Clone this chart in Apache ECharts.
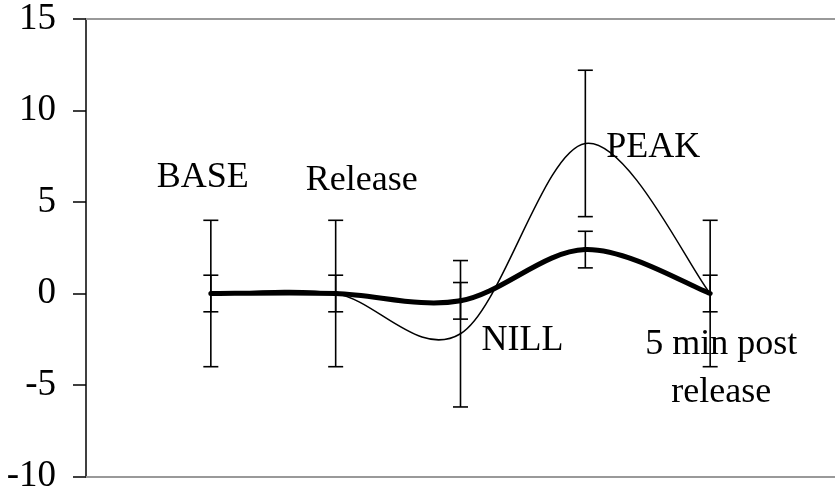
<!DOCTYPE html>
<html>
<head>
<meta charset="utf-8">
<script src="https://cdn.jsdelivr.net/npm/echarts@6/dist/echarts.min.js"></script>
<style>
  html, body { margin: 0; padding: 0; background: #fff; }
  #chart { width: 835px; height: 495px; }
</style>
</head>
<body>
<div id="chart"></div>
<script>
// 数据
const categories = ['', 'BASE', 'Release', 'NILL', 'PEAK', '5 min post\nrelease', ''];
const thinValues = [null, 0, 0, -2.2, 8.2, 0, null];
const thinErrors = [null, 4, 4, 4, 4, 4, null];
const thickValues = [null, 0, 0, -0.4, 2.4, 0, null];
const thickErrors = [null, 1, 1, 1, 1, 1, null];
const yMin = -10;
const yMax = 15;
const yStep = 5;

// 标签相对于细线点的偏移 (px)
const labelOffsets = [null, [-8, -116], [26, -113], [62, 7], [68, 4], [11, 0]];

const FONT = '"Liberation Serif", "Times New Roman", serif';

function pointData(values, errors) {
  const out = [];
  values.forEach((v, i) => {
    if (v !== null) out.push([i, v, errors[i]]);
  });
  return out;
}

// 每一段的起点索引
function segmentData(values) {
  const out = [];
  for (let i = 0; i < values.length - 1; i++) {
    if (values[i] !== null && values[i + 1] !== null) out.push([i, values[i]]);
  }
  return out;
}

/**
 * 生成一个类似 Excel 平滑线的分段三次贝塞尔曲线
 * @param {Array} values 数据
 * @param {Number} width 线宽
 */
function smoothRenderer(values, width) {
  const valid = values.map((v, i) => (v !== null ? i : -1)).filter(i => i >= 0);
  const first = valid[0];
  const last = valid[valid.length - 1];
  return function (params, api) {
    const i = api.value(0);
    const pt = j => {
      const k = Math.min(Math.max(j, first), last);
      return api.coord([k, values[k]]);
    };
    const p0 = pt(i - 1);
    const p1 = pt(i);
    const p2 = pt(i + 1);
    const p3 = pt(i + 2);
    return {
      type: 'bezierCurve',
      shape: {
        x1: p1[0], y1: p1[1],
        x2: p2[0], y2: p2[1],
        cpx1: p1[0] + (p2[0] - p0[0]) / 6,
        cpy1: p1[1] + (p2[1] - p0[1]) / 6,
        cpx2: p2[0] - (p3[0] - p1[0]) / 6,
        cpy2: p2[1] - (p3[1] - p1[1]) / 6
      },
      style: { stroke: '#000', fill: null, lineWidth: width, lineCap: 'round' }
    };
  };
}

// 误差线
function renderError(params, api) {
  const i = api.value(0);
  const v = api.value(1);
  const e = api.value(2);
  const top = api.coord([i, v + e]);
  const bottom = api.coord([i, v - e]);
  const half = 7.5;
  const style = { stroke: '#000', lineWidth: 1.6 };
  return {
    type: 'group',
    children: [
      { type: 'line', shape: { x1: top[0], y1: top[1], x2: bottom[0], y2: bottom[1] }, style },
      { type: 'line', shape: { x1: top[0] - half, y1: top[1], x2: top[0] + half, y2: top[1] }, style },
      { type: 'line', shape: { x1: bottom[0] - half, y1: bottom[1], x2: bottom[0] + half, y2: bottom[1] }, style }
    ]
  };
}

// 数据标签
function renderLabel(params, api) {
  const i = api.value(0);
  const v = api.value(1);
  const p = api.coord([i, v]);
  const off = labelOffsets[i];
  const text = categories[i];
  const multi = text.indexOf('\n') >= 0;
  return {
    type: 'text',
    x: p[0] + off[0],
    y: p[1] + off[1] + (multi ? 75 : 0),
    style: {
      text,
      fontFamily: FONT,
      fontSize: 36,
      lineHeight: 48,
      fill: '#000',
      align: 'center',
      verticalAlign: 'middle'
    }
  };
}

const myChart = echarts.init(document.getElementById('chart'));

const borderAxis = {
  type: 'category',
  data: categories,
  boundaryGap: false,
  axisLine: { onZero: false, lineStyle: { color: '#999', width: 2 } },
  axisTick: { show: false },
  axisLabel: { show: false },
  splitLine: { show: false }
};

const option = {
  animation: false,
  grid: { left: 86, right: 0, top: 19, bottom: 18 },
  xAxis: [
    Object.assign({}, borderAxis, { position: 'bottom' }),
    Object.assign({}, borderAxis, { position: 'top' })
  ],
  yAxis: {
    type: 'value',
    min: yMin,
    max: yMax,
    interval: yStep,
    axisLine: { show: true, onZero: false, lineStyle: { color: '#000', width: 1.5 } },
    axisTick: { show: true, inside: false, length: 13, lineStyle: { color: '#000', width: 1.5 } },
    axisLabel: {
      color: '#000',
      fontFamily: FONT,
      fontSize: 37,
      margin: 30
    },
    splitLine: { show: false }
  },
  series: [
    {
      name: 'thinErr',
      type: 'custom',
      data: pointData(thinValues, thinErrors),
      renderItem: renderError,
      z: 2
    },
    {
      name: 'thickErr',
      type: 'custom',
      data: pointData(thickValues, thickErrors),
      renderItem: renderError,
      z: 2
    },
    {
      name: 'thin',
      type: 'custom',
      data: segmentData(thinValues),
      renderItem: smoothRenderer(thinValues, 1.5),
      z: 3
    },
    {
      name: 'thick',
      type: 'custom',
      data: segmentData(thickValues),
      renderItem: smoothRenderer(thickValues, 5),
      z: 4
    },
    {
      name: 'labels',
      type: 'custom',
      data: pointData(thinValues, thinErrors),
      renderItem: renderLabel,
      z: 5
    }
  ]
};

myChart.setOption(option);
</script>
</body>
</html>
